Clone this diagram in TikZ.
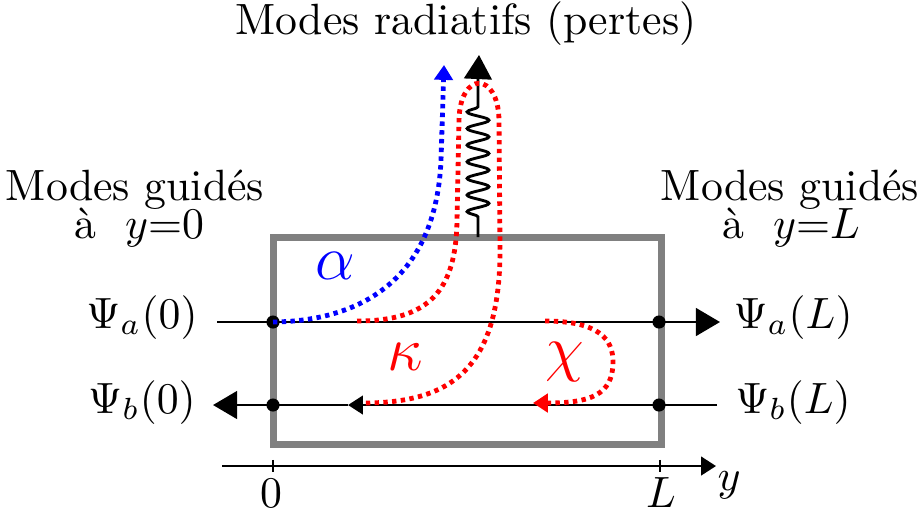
\documentclass[tikz,border=0pt]{standalone}
\usetikzlibrary{arrows.meta,decorations.pathmorphing}
\begin{document}
\begin{tikzpicture}[x=0.2285pt,y=-0.2285pt,
  bigtip/.style={-{Triangle[length=5.5pt,width=6.3pt]}},
  smalltip/.style={-{Triangle[length=3.4pt,width=4.2pt]}},
  wire/.style={line width=0.65pt},
  frame/.style={draw=gray, line width=1.6pt},
  dotline/.style={line width=1.1pt, dash pattern=on 1pt off 1pt},
  junction/.style={circle, fill=black, inner sep=0pt, minimum size=3pt},
  lbl/.style={inner sep=0pt, anchor=base},
  greek/.style={inner sep=0pt, font=\fontsize{13.5}{16}\selectfont}]
\useasboundingbox (0,0) rectangle (920,515);

% frame
\draw[frame] (273,237) rectangle (661,444);

% labels
\node[lbl] (title) at (466,34) {Modes radiatifs (pertes)};
\node[lbl] (gl1) at (135,200) {Modes guidés};
\node[lbl] (gl2) at (139,238) {à \ $y{=}0$};
\node[lbl] (gr1) at (790,200) {Modes guidés};
\node[lbl] (gr2) at (791,238) {à \ $y{=}L$};
\node[lbl] (psiA0) at (142,328) {$\Psi_a(0)$};
\node[lbl] (psiB0) at (142,413) {$\Psi_b(0)$};
\node[lbl] (psiAL) at (793,328) {$\Psi_a(L)$};
\node[lbl] (psiBL) at (793,413) {$\Psi_b(L)$};
\node[greek, text=blue] (alpha) at (335,266) {$\alpha$};
\node[greek, text=red] (kappa) at (405,357) {$\kappa$};
\node[greek, text=red] (chi) at (565,362) {$\chi$};

% coordinates
\coordinate (aL) at (217,322);
\coordinate (aR) at (720,322);
\coordinate (bR) at (717,405);
\coordinate (bM) at (348,405);
\coordinate (bL) at (213,405);
\node[junction] (j1) at (273,322) {};
\node[junction] (j2) at (659,322) {};
\node[junction] (j3) at (273,405) {};
\node[junction] (j4) at (659,405) {};

% guided lines
\draw[wire, bigtip] (aL) -- (aR);
\draw[wire, smalltip] (bR) -- (bM);
\draw[wire, bigtip] (bM) -- (bL);

% axis
\coordinate (xs) at (222,466);
\coordinate (xe) at (716,466);
\draw[wire, smalltip] (xs) -- (xe);
\coordinate (t0) at (273,466);
\coordinate (tL) at (660,466);
\draw[wire] ([yshift=1.4pt]t0) -- ([yshift=-1.4pt]t0);
\draw[wire] ([yshift=1.4pt]tL) -- ([yshift=-1.4pt]tL);
\node[lbl] (zero) at (271,507) {$0$};
\node[lbl] (ell) at (661,507) {$L$};
\node[lbl] (yax) at (729,490) {$y$};

% wavy radiation
\coordinate (w0) at (478,237);
\coordinate (w1) at (478,77);
\coordinate (w2) at (479,55);
\draw[wire, decorate, decoration={snake, amplitude=2.5pt, segment length=3.8pt, pre length=4.6pt, post length=6.5pt}] (w0) -- (w1);
\draw[wire, bigtip] (w1) -- (w2);

% blue alpha curve
\coordinate (bt) at (444,65);
\draw[blue, dotline, smalltip] (j1.center) .. controls (360,321) and (436,280) .. (441,160) -- (bt);

% red kappa curve
\coordinate (k0) at (357,321);
\coordinate (k1) at (363,403);
\draw[red, dotline] (k0) .. controls (430,321) and (456,290) .. (457,220) -- (459,120)
  .. controls (460,71) and (498,71) .. (499,120) -- (500,250)
  .. controls (500,370) and (450,403) .. (k1);

% red chi curve
\coordinate (c0) at (545,321);
\coordinate (c1) at (533,403);
\draw[red, dotline, smalltip] (c0) .. controls (600,321) and (613,340) .. (613,362)
  .. controls (613,395) and (590,403) .. (c1);
\end{tikzpicture}
\end{document}
